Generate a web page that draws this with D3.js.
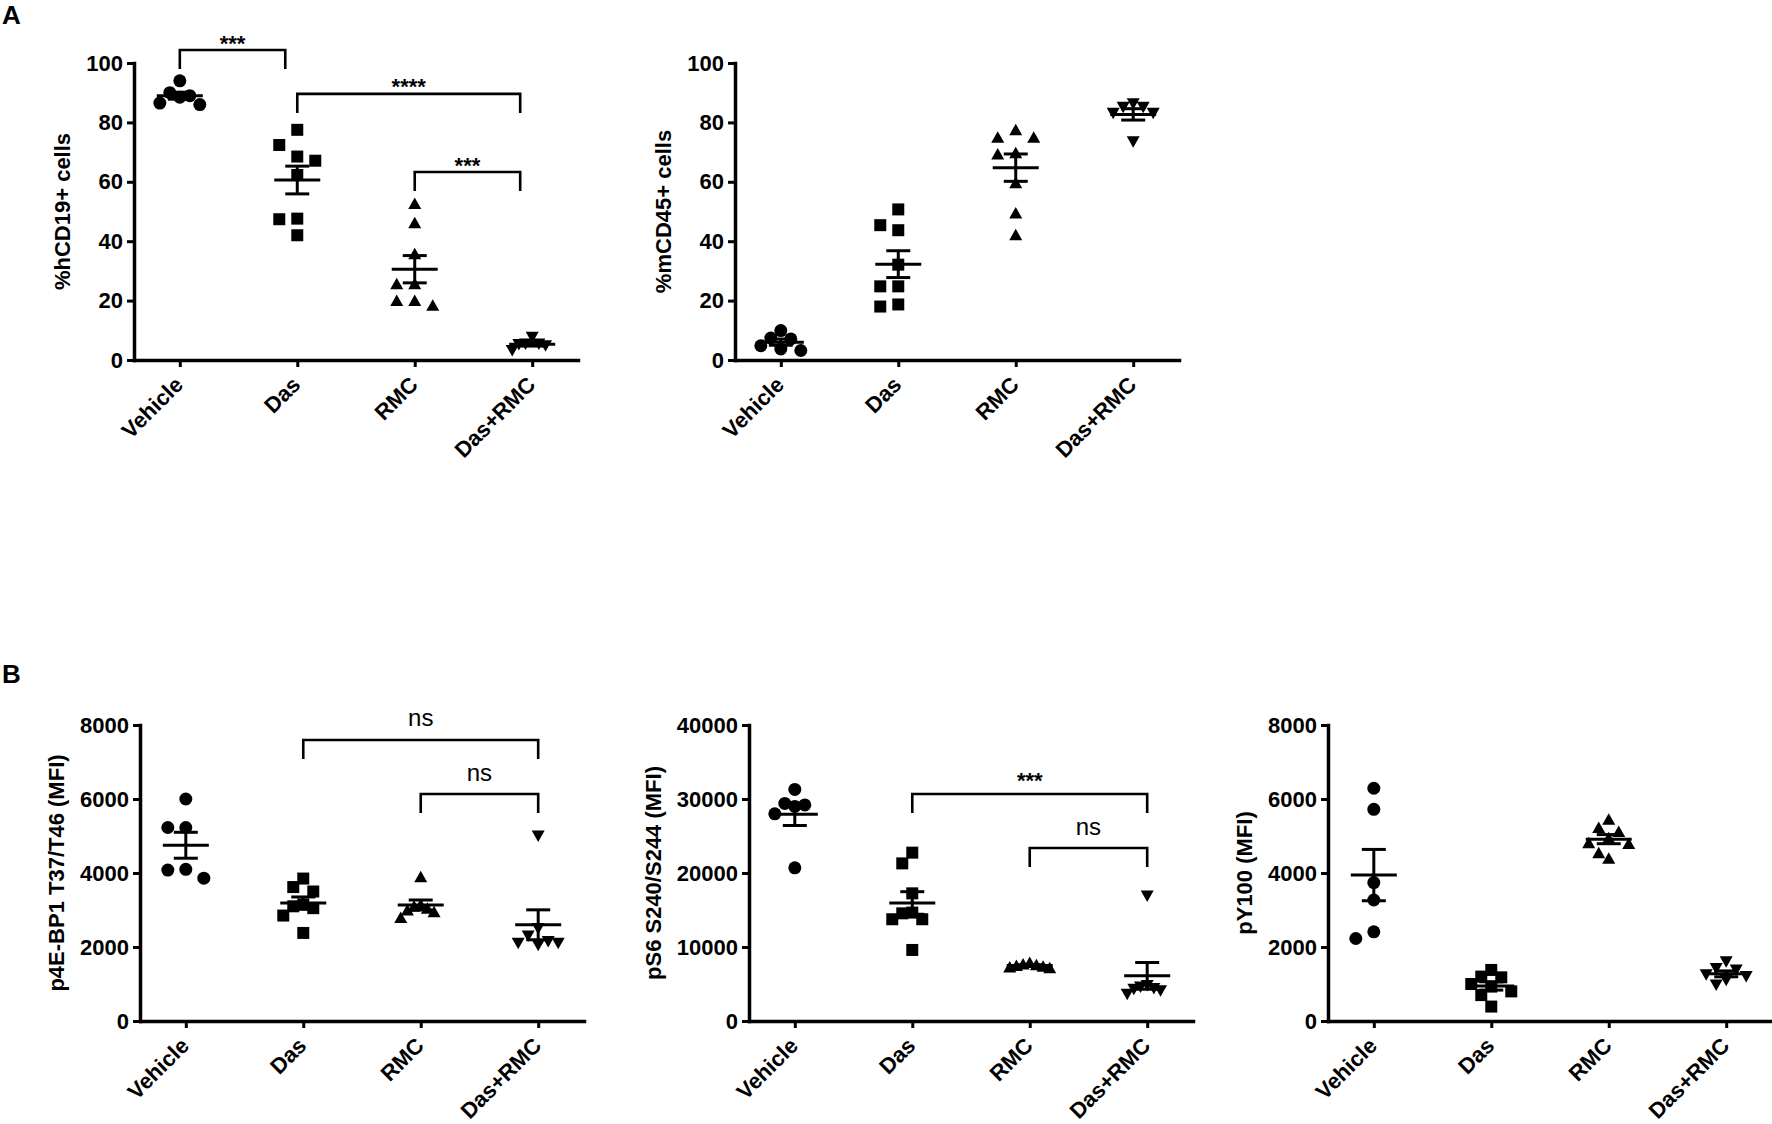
<!DOCTYPE html>
<html>
<head>
<meta charset="utf-8">
<script src="https://cdn.jsdelivr.net/npm/d3@7"></script>
<style>
body{margin:0;background:#fff;}
text{font-family:"Liberation Sans",Arial,sans-serif;}
</style>
</head>
<body>
<div id="fig"></div>
<script>
var width=1772, height=1124;

// groups and their symbols
var categories=['Vehicle','Das','RMC','Das+RMC'];
var symbols=['circle','square','triangle','triangleDown'];

// tick labels
var ticksPct=[0,20,40,60,80,100];
var ticks8k=[0,2000,4000,6000,8000];
var ticks40k=[0,10000,20000,30000,40000];

// A: %hCD19+ cells
var hcd19=[
	[94,90,89,88.5,86.5,86],
	[77.5,72.4,68.5,67.1,62.3,47.6,47.4,42],
	[52.7,46.2,35.8,25.7,25.7,20,20,18.4],
	[7.7,5.4,5.4,5.2,4.8,3.2]
];
var hcd19Stats=[
	{a:0,b:1,level:104.4,label:'***'},
	{a:1,b:3,level:89.6,label:'****'},
	{a:2,b:3,level:63.3,label:'***'}
];

// A: %mCD45+ cells
var mcd45=[
	[9.9,7.4,7.1,4.8,3.7,3.2],
	[50.7,45.4,43.7,32.1,24.8,24.8,18.7,18],
	[77.5,75,75,69.8,69.4,59.7,49.5,42.2],
	[86.3,85.1,85.1,83.1,83.1,73.5]
];

// B: p4E-BP1 T37/T46 (MFI)
var p4ebp1=[
	[6000,5230,5230,4100,4080,3860],
	[3850,3620,3500,3150,3100,3050,2850,2380],
	[3900,3150,3100,3050,3000,2950,2800],
	[5000,2500,2300,2150,2100,2100,2050]
];
var p4ebp1Stats=[
	{a:1,b:3,level:7595,label:'ns'},
	{a:2,b:3,level:6135,label:'ns'}
];

// B: pS6 S240/S244 (MFI)
var ps6=[
	[31300,29400,29200,29000,28000,20700],
	[22750,21300,17250,14650,14550,13750,13750,9600],
	[7900,7700,7600,7500,7400,7300,7200],
	[16900,4800,4600,4400,4300,4100,3600]
];
var ps6Stats=[
	{a:1,b:3,level:30680,label:'***'},
	{a:2,b:3,level:23380,label:'ns'}
];

// B: pY100 (MFI)
var py100=[
	[6290,5720,3740,3270,2410,2230],
	[1380,1200,1180,1000,930,800,700,390],
	[5450,5230,5120,4950,4820,4800,4550,4400],
	[1600,1420,1380,1250,1200,1100,970]
];

var svg=d3.select('#fig').append('svg').attr('width',width).attr('height',height);

var shapePath={
	circle:d3.symbol(d3.symbolCircle,Math.PI*6.5*6.5)(),
	square:d3.symbol(d3.symbolSquare,144)(),
	triangle:'M0,-6L6.5,5.5L-6.5,5.5Z',
	triangleDown:'M0,6L6.5,-5.5L-6.5,-5.5Z'
};

// spread points that would sit on top of each other
function swarm(vals,y){
	var order=vals.map(function(v,i){return i;}).sort(function(a,b){return vals[b]-vals[a];});
	var placed=[], cols=[];
	order.forEach(function(i){
		var py=y(vals[i]);
		var c=[0,-1,1,-2,2,-3,3].find(function(k){
			return !placed.some(function(p){return p.c===k&&Math.abs(p.y-py)<16;});
		});
		if(c===undefined) c=0;
		placed.push({c:c,y:py});
		cols[i]=c;
	});
	var m=d3.max(cols,function(c){return Math.abs(c);})||1;
	var s=Math.min(18,20/m);
	return cols.map(function(c){return c*s;});
}

function panel(cfg){
	var g=svg.append('g');
	var x=d3.scalePoint().domain(categories).range([cfg.x0,cfg.x0+444]).padding(0.39);
	var y=d3.scaleLinear().domain([0,cfg.ticks[cfg.ticks.length-1]]).range([cfg.yBot,cfg.yTop]);

	var ya=g.append('g').attr('transform','translate('+cfg.x0+',0)')
		.call(d3.axisLeft(y).tickValues(cfg.ticks).tickFormat(d3.format('d')).tickSize(7).tickSizeOuter(0).tickPadding(4));
	var xa=g.append('g').attr('transform','translate(0,'+cfg.yBot+')')
		.call(d3.axisBottom(x).tickSize(7).tickSizeOuter(0).tickPadding(4));

	[ya,xa].forEach(function(a){
		a.attr('font-family',null).attr('font-size',null);
		a.select('.domain').attr('stroke','#000').attr('stroke-width',3.5).attr('stroke-linecap','square');
		a.selectAll('.tick line').attr('stroke','#000').attr('stroke-width',3);
		a.selectAll('.tick text').attr('fill','#000').style('font-size','22px').style('font-weight','bold');
	});
	xa.selectAll('.tick text').attr('y',0).attr('dy',0)
		.attr('text-anchor','end').attr('transform','translate(4,26) rotate(-45)');

	var left=d3.min(ya.selectAll('.tick text').nodes(),function(n){
		return cfg.x0-11-n.getBBox().width;
	});
	g.append('text').attr('transform','translate('+(left-16)+','+((cfg.yTop+cfg.yBot)/2)+') rotate(-90)')
		.attr('text-anchor','middle').style('font-size','22px').style('font-weight','bold')
		.text(cfg.title);

	cfg.data.forEach(function(vals,gi){
		var cx=x(categories[gi]);
		var off=swarm(vals,y);
		g.selectAll(null).data(vals).enter().append('path')
			.attr('d',shapePath[symbols[gi]])
			.attr('transform',function(d,i){return 'translate('+(cx+off[i])+','+y(d)+')';})
			.attr('fill','#000');
		var mean=d3.mean(vals);
		var sem=d3.deviation(vals)/Math.sqrt(vals.length);
		var lines=[
			[cx-23,y(mean),cx+23,y(mean)],
			[cx-12,y(mean+sem),cx+12,y(mean+sem)],
			[cx-12,y(mean-sem),cx+12,y(mean-sem)],
			[cx,y(mean+sem),cx,y(mean-sem)]
		];
		g.selectAll(null).data(lines).enter().append('line')
			.attr('x1',function(d){return d[0];}).attr('y1',function(d){return d[1];})
			.attr('x2',function(d){return d[2];}).attr('y2',function(d){return d[3];})
			.attr('stroke','#000').attr('stroke-width',3);
	});

	// significance brackets
	(cfg.stats||[]).forEach(function(s){
		var xa1=x(categories[s.a]), xb=x(categories[s.b])-(cfg.inset||0), ly=y(s.level);
		g.append('path')
			.attr('d','M'+xa1+','+(ly+19)+'V'+ly+'H'+xb+'V'+(ly+19))
			.attr('fill','none').attr('stroke','#000').attr('stroke-width',2.6);
		var star=s.label!=='ns';
		g.append('text').attr('x',(xa1+xb)/2)
			.attr('y',star?ly-cfg.gap+12.6:ly-cfg.gap+6.5)
			.attr('text-anchor','middle')
			.style('font-size',star?'22px':'24px')
			.style('font-weight',star?'bold':'normal')
			.text(s.label);
	});
}

panel({x0:134,yTop:63,yBot:360,ticks:ticksPct,title:'%hCD19+ cells',data:hcd19,stats:hcd19Stats,gap:12,inset:12});
panel({x0:735,yTop:63,yBot:360,ticks:ticksPct,title:'%mCD45+ cells',data:mcd45});
panel({x0:140,yTop:725,yBot:1021,ticks:ticks8k,title:'p4E-BP1 T37/T46 (MFI)',data:p4ebp1,stats:p4ebp1Stats,gap:20});
panel({x0:749,yTop:725,yBot:1021,ticks:ticks40k,title:'pS6 S240/S244 (MFI)',data:ps6,stats:ps6Stats,gap:19});
panel({x0:1328,yTop:725,yBot:1021,ticks:ticks8k,title:'pY100 (MFI)',data:py100});

svg.append('text').attr('x',2).attr('y',24).style('font-size','26px').style('font-weight','bold').text('A');
svg.append('text').attr('x',2).attr('y',683).style('font-size','26px').style('font-weight','bold').text('B');
</script>
</body>
</html>
